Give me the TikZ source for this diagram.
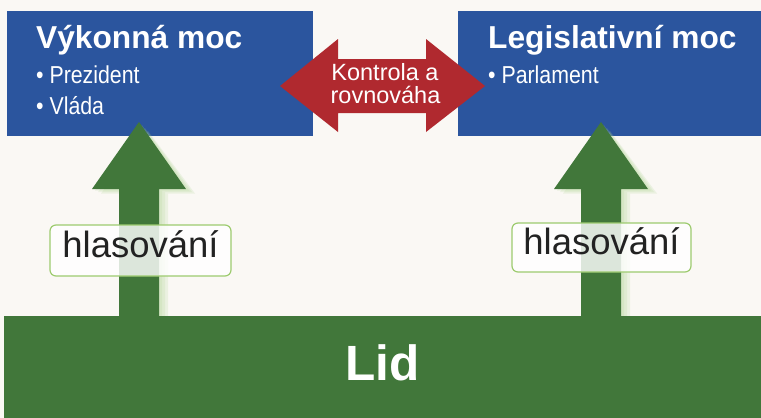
\documentclass[tikz,border=0pt]{standalone}
\usepackage{fontspec}
\setmainfont{Liberation Sans}
\newfontfamily\narrowfont[FakeStretch=0.87]{Liberation Sans}
\definecolor{bgc}{HTML}{FAF8F4}
\definecolor{bluec}{HTML}{2B559E}
\definecolor{greenc}{HTML}{41773A}
\definecolor{redc}{HTML}{B0292F}
\definecolor{glowc}{HTML}{A9D28C}
\definecolor{lblborder}{HTML}{9DCB6F}
\definecolor{textc}{HTML}{222222}
\begin{document}
\begin{tikzpicture}[x=1pt,y=-1pt,
  branch/.style={fill=bluec, draw=none, inner sep=0pt, anchor=north west},
  titletext/.style={text=white, inner sep=0pt, anchor=base west, font=\bfseries\fontsize{31.7}{31.7}\selectfont},
  itemtext/.style={text=white, inner sep=0pt, anchor=base west, font=\narrowfont\fontsize{24.5}{24.5}\selectfont},
  redtext/.style={text=white, inner sep=0pt, anchor=base, font=\fontsize{23.5}{23.5}\selectfont},
  votearrow/.style={fill=greenc, draw=none},
  glow/.style={fill=glowc, draw=none, opacity=0.18},
  votelabel/.style={draw=lblborder, line width=1.2pt, rounded corners=6pt, fill=white, fill opacity=0.82, text opacity=1, text=textc, inner sep=0pt, text height=13pt, text depth=0pt, font=\fontsize{36.5}{36.5}\selectfont},
  people/.style={fill=greenc, draw=none, inner sep=0pt, anchor=north west, text=white, font=\bfseries\fontsize{49.5}{49.5}\selectfont, text height=26pt, text depth=0pt}
]
\useasboundingbox (0,0) rectangle (761,418);
\fill[bgc] (0,0) rectangle (761,418);

% branches
\node[branch, minimum width=306pt, minimum height=125pt] (exec) at (7,11) {};
\node[branch, minimum width=303pt, minimum height=125pt] (leg) at (458,11) {};
\node[titletext] (exectitle) at (36,48) {Výkonná moc};
\node[itemtext] (exec1) at (36,83) {• Prezident};
\node[itemtext] (exec2) at (36,114) {• Vláda};
\node[titletext] (legtitle) at (488,48) {Legislativní moc};
\node[itemtext] (leg1) at (488,83) {• Parlament};

% glow of voting arrows
\foreach \d in {3,6,9}{
  \fill[glow] (119+\d,316) -- (119+\d,189+\d/2) -- (92+\d,189+\d/2) -- (139+\d,122+\d) -- (186+\d,189+\d/2) -- (159+\d,189+\d/2) -- (159+\d,316) -- cycle;
  \fill[glow] (581+\d,316) -- (581+\d,189+\d/2) -- (554+\d,189+\d/2) -- (601+\d,122+\d) -- (648+\d,189+\d/2) -- (621+\d,189+\d/2) -- (621+\d,316) -- cycle;
}
% voting arrows
\fill[votearrow] (119,316) -- (119,189) -- (92,189) -- (139,122) -- (186,189) -- (159,189) -- (159,316) -- cycle;
\fill[votearrow] (581,316) -- (581,189) -- (554,189) -- (601,122) -- (648,189) -- (621,189) -- (621,316) -- cycle;

% checks and balances double arrow
\fill[redc] (280,86) -- (338,39) -- (338,59) -- (426,59) -- (426,39) -- (485,86) -- (426,132) -- (426,113) -- (338,113) -- (338,132) -- cycle;
\node[redtext] (kr1) at (385,80) {Kontrola a};
\node[redtext] (kr2) at (385.5,103) {rovnováha};

% labels
\node[votelabel, minimum width=181pt, minimum height=51pt] (vote1) at (140.5,250.5) {hlasování};
\node[votelabel, minimum width=179pt, minimum height=49pt] (vote2) at (601.5,247.5) {hlasování};

% people
\node[people, minimum width=757pt, minimum height=102pt] (lid) at (4,316) {Lid};
\end{tikzpicture}
\end{document}
